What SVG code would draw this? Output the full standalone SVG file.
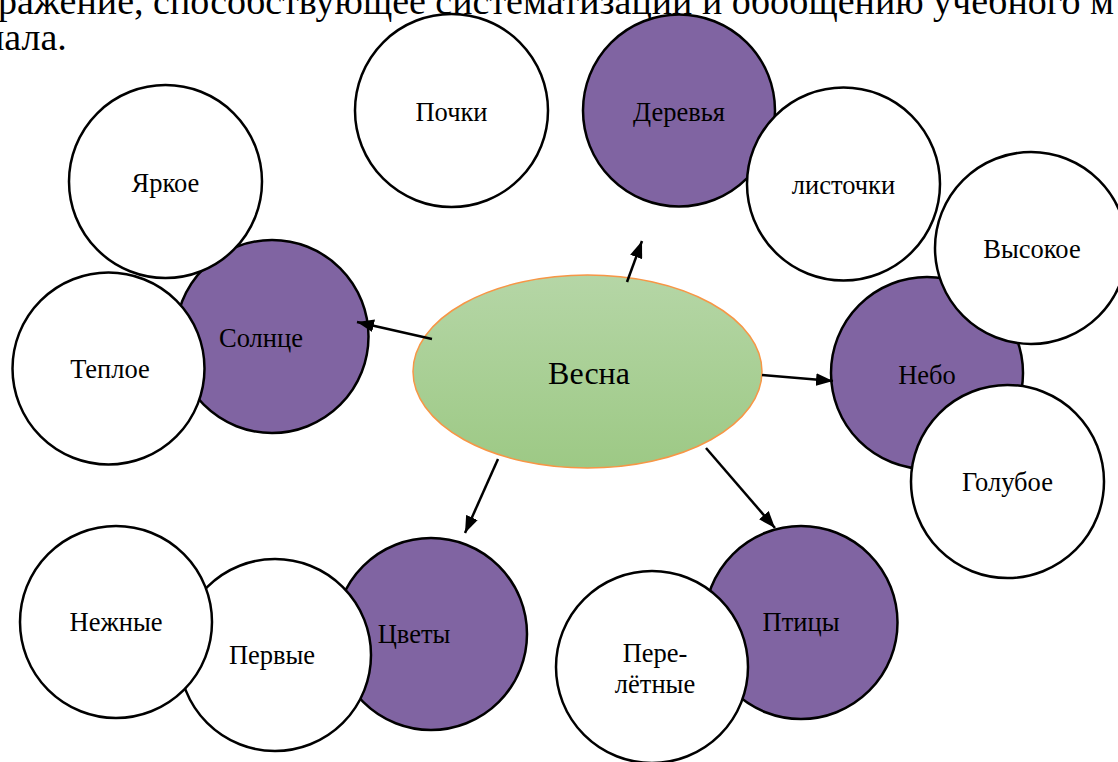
<svg xmlns="http://www.w3.org/2000/svg" width="1118" height="762" viewBox="0 0 1118 762">
<defs>
<linearGradient id="g" x1="0" y1="0" x2="0" y2="1">
<stop offset="0" stop-color="#b5d6a6"/>
<stop offset="1" stop-color="#9dc985"/>
</linearGradient>
<marker id="ah" viewBox="0 0 16 12" refX="16" refY="6" markerWidth="17" markerHeight="13" markerUnits="userSpaceOnUse" orient="auto">
<path d="M0,0 L16,6 L0,12 z" fill="#000"/>
</marker>
<style>
.w{fill:#fff;stroke:#000;stroke-width:2.5}
.p{fill:#8064a2;stroke:#000;stroke-width:2.5}
text{fill:#000;font-family:'Liberation Serif','Times New Roman',serif}
.l{font-size:26.5px;text-anchor:middle}
.h{font-size:38px}
.c line{stroke:#000;stroke-width:2.5;marker-end:url(#ah)}
</style>
</defs>
<rect width="1118" height="762" fill="#fff"/>
<g id="header">
<text class="h" x="-2" y="14">ражение, способствующее систематизации и обобщению учебного м</text>
<text class="h" x="-16" y="50">иала.</text>
</g>
<g id="derevya"><circle class="p" cx="679" cy="110.5" r="96"/><text class="l" x="679" y="121">Деревья</text></g>
<g id="solntse"><circle class="p" cx="272" cy="336.5" r="96.5"/><text class="l" x="261" y="347">Солнце</text></g>
<g id="nebo"><circle class="p" cx="927" cy="373" r="96"/><text class="l" x="927" y="384">Небо</text></g>
<g id="tsvety"><circle class="p" cx="431" cy="634" r="96"/><text class="l" x="414" y="643">Цветы</text></g>
<g id="ptitsy"><circle class="p" cx="801" cy="622.5" r="96.5"/><text class="l" x="801" y="631">Птицы</text></g>
<g id="pervye"><circle class="w" cx="275" cy="655" r="96"/><text class="l" x="272" y="664">Первые</text></g>
<g id="nezhnye"><circle class="w" cx="116" cy="622" r="96"/><text class="l" x="116" y="631">Нежные</text></g>
<g id="pereletnye"><circle class="w" cx="652" cy="667" r="96"/><text class="l" x="655" y="662">Пере-</text><text class="l" x="655" y="693">лётные</text></g>
<g id="pochki"><circle class="w" cx="451.5" cy="110.5" r="96.5"/><text class="l" x="451.5" y="121">Почки</text></g>
<g id="listochki"><circle class="w" cx="843.5" cy="184" r="96.5"/><text class="l" x="843.5" y="194">листочки</text></g>
<g id="vysokoe"><circle class="w" cx="1031" cy="248" r="96"/><text class="l" x="1032" y="258">Высокое</text></g>
<g id="goluboe"><circle class="w" cx="1007.5" cy="481.5" r="96.5"/><text class="l" x="1007.5" y="491">Голубое</text></g>
<g id="yarkoe"><circle class="w" cx="165.5" cy="181.5" r="96.5"/><text class="l" x="165.5" y="192">Яркое</text></g>
<g id="teploe"><circle class="w" cx="108.5" cy="368.5" r="96"/><text class="l" x="110" y="378">Теплое</text></g>
<g id="vesna"><ellipse cx="587.5" cy="371.5" rx="174.5" ry="96.5" fill="url(#g)" stroke="#f79646" stroke-width="1.5"/><text x="589" y="384" font-size="32" text-anchor="middle">Весна</text></g>
<g id="connectors" class="c">
<line x1="627" y1="282" x2="642" y2="241"/>
<line x1="432" y1="339" x2="357" y2="322"/>
<line x1="762" y1="375" x2="833" y2="381"/>
<line x1="498" y1="459" x2="465" y2="533"/>
<line x1="706" y1="448" x2="775" y2="528"/>
</g>
</svg>
